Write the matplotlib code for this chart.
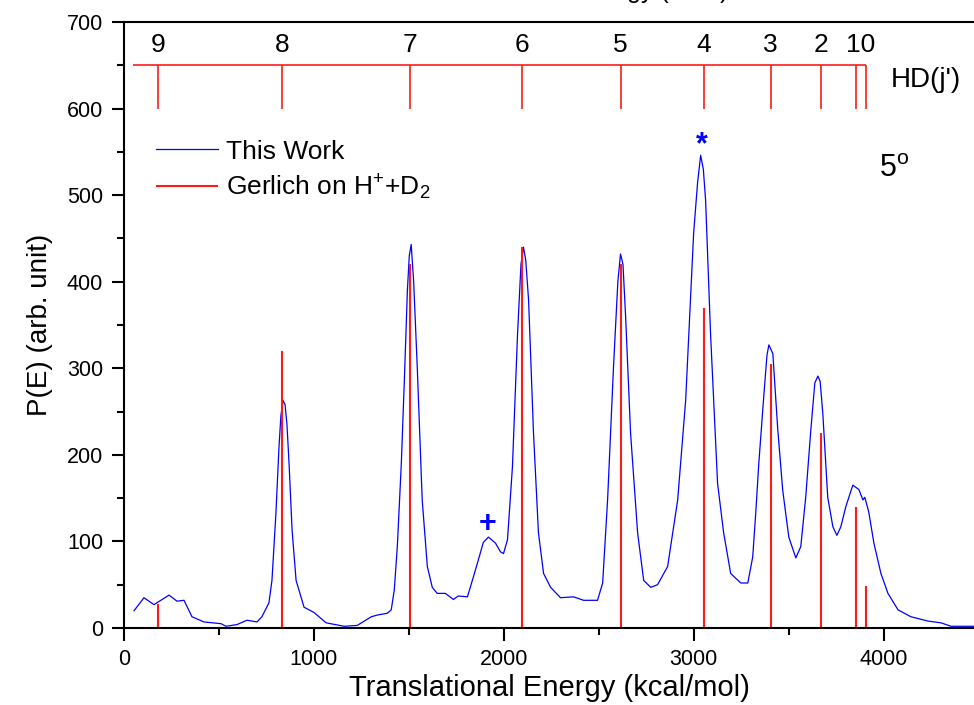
import numpy as np
import matplotlib
matplotlib.use('Agg')
import matplotlib.pyplot as plt

plt.rcParams['font.family'] = ['Liberation Sans', 'DejaVu Sans']
plt.rcParams['mathtext.default'] = 'regular'

# measured P(E) distribution (translational energy, intensity)
energy = [53, 105, 158, 237, 279, 316, 358, 421, 511, 537, 595, 648, 700, 726,
          763, 779, 800, 816, 826, 837, 848, 858, 869, 885, 906, 948, 1000,
          1064, 1159, 1228, 1302, 1334, 1386, 1407, 1423, 1439, 1460, 1476,
          1492, 1502, 1512, 1525, 1544, 1570, 1597, 1623, 1649, 1692, 1734,
          1760, 1808, 1834, 1866, 1892, 1919, 1956, 1982, 1998, 2019, 2045,
          2072, 2090, 2103, 2115, 2130, 2156, 2182, 2209, 2246, 2298, 2367,
          2420, 2493, 2520, 2546, 2577, 2600, 2614, 2627, 2641, 2667, 2704,
          2736, 2773, 2809, 2862, 2915, 2957, 2999, 3020, 3036, 3050, 3062,
          3088, 3125, 3157, 3194, 3247, 3284, 3310, 3326, 3342, 3368, 3385,
          3395, 3416, 3442, 3468, 3500, 3537, 3563, 3589, 3616, 3637, 3653,
          3665, 3679, 3705, 3732, 3753, 3774, 3800, 3837, 3869, 3890, 3900,
          3921, 3948, 3985, 4022, 4075, 4143, 4233, 4301, 4354, 4475]
intensity = [20, 35, 27, 38, 31, 32, 13, 7, 5, 2, 4, 9, 7, 13,
             29, 55, 133, 209, 245, 263, 258, 235, 190, 113, 55, 24, 18,
             6, 2, 3, 13, 15, 17, 21, 44, 94, 190, 286,
             390, 430, 443, 400, 301, 148, 71, 47, 40, 40, 33,
             37, 36, 55, 79, 99, 105, 98, 88, 86, 102, 186,
             340, 420, 440, 425, 379, 225, 110, 63, 47, 35, 36,
             32, 32, 52, 148, 301, 400, 432, 420, 359, 225, 110,
             55, 47, 50, 71, 148, 263, 456, 515, 546, 530, 494,
             340, 167, 110, 63, 52, 52, 82, 133, 190, 267, 315,
             327, 317, 229, 159, 105, 81, 94, 151, 229, 283, 291,
             285, 248, 151, 117, 107, 117, 140, 165, 160, 148, 151,
             134, 98, 63, 40, 21, 13, 8, 6, 2, 2]

# Gerlich H+ + D2 stick spectrum, HD(j') levels
j_labels = ['9', '8', '7', '6', '5', '4', '3', '2', '1', '0']
j_energy = [179, 833, 1505, 2097, 2614, 3052, 3405, 3668, 3853, 3905]
j_height = [28, 320, 420, 440, 420, 370, 305, 225, 140, 48]

fig = plt.figure(figsize=(9.74, 7.05), dpi=100)
ax = fig.add_axes([0.1273, 0.1092, 0.8727, 0.8596])

ax.plot(energy, intensity, color='#0000ff', lw=0.9, label='This Work')
ax.vlines(j_energy, 0, j_height, color='#ff1a1a', lw=1.5,
          label='Gerlich on H$^{+}$+D$_{2}$')

# HD(j') comb along the top
ax.hlines(650, 47, j_energy[-1], color='#ff1a1a', lw=1.2)
ax.vlines(j_energy, 600, 650, color='#ff1a1a', lw=1.2)
# j'=1 and j'=0 sit so close that they share one "10" label
top_pos = j_energy[:8] + [np.mean(j_energy[8:])]
top_lab = j_labels[:8] + [j_labels[8] + j_labels[9]]
for e, lab in zip(top_pos, top_lab):
    ax.text(e, 660, lab, ha='center', va='bottom', fontsize=19)
ax.text(4035, 633, "HD(j')", ha='left', va='center', fontsize=20)

# peak markers
ax.text(3040, 558, '*', color='#0000ff', ha='center', va='center',
        fontsize=22, fontweight='bold')
ax.text(1913, 120, '+', color='#0000ff', ha='center', va='center',
        fontsize=22, fontweight='bold')
ax.text(3975, 530, '5$^{o}$', ha='left', va='center', fontsize=22)

ax.set_xlim(0, 4475)
ax.set_ylim(0, 700)
ax.set_xticks([0, 1000, 2000, 3000, 4000])
ax.set_xticks(np.arange(500, 4475, 1000), minor=True)
ax.set_yticks(np.arange(0, 701, 100))
ax.set_yticks(np.arange(50, 700, 100), minor=True)
ax.tick_params(which='major', direction='out', length=9, width=1.5,
               labelsize=15.5, pad=6)
ax.tick_params(which='minor', direction='out', length=5, width=1.5)
ax.spines['right'].set_visible(False)
for s in ['left', 'bottom', 'top']:
    ax.spines[s].set_linewidth(1.5)

ax.set_xlabel('Translational Energy (kcal/mol)', fontsize=21, labelpad=3)
ax.set_ylabel('P(E) (arb. unit)', fontsize=20, labelpad=10)

ax.legend(loc='upper left', bbox_to_anchor=(0.01, 0.845), frameon=False,
          fontsize=19, handlelength=2.35, handletextpad=0.3, labelspacing=0.35)

# upper axis title sits above the figure edge, only its descenders show
fig.text(728 / 974, 1 + 2 / 705, 'Rotational Energy (meV)', ha='right',
         va='baseline', fontsize=18)

fig.savefig('out.png', dpi=100)
